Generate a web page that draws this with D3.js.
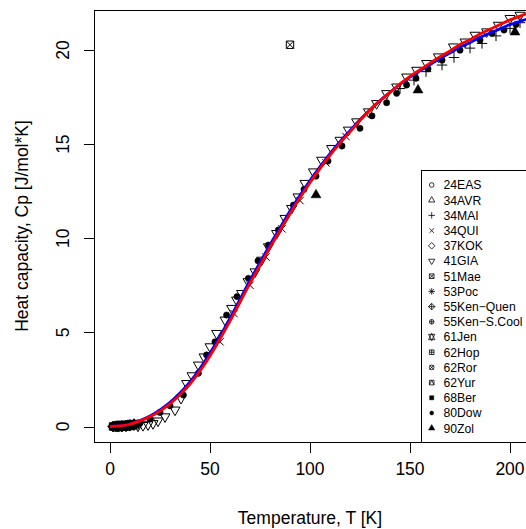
<!DOCTYPE html>
<html><head><meta charset="utf-8">
<script src="https://cdn.jsdelivr.net/npm/d3@7"></script>
<style>html,body{margin:0;padding:0;background:#fff;} svg{display:block;font-family:"Liberation Sans",Arial,Helvetica,sans-serif;}</style>
</head><body>
<script>
// ---- Data ----
const xTicks = [0, 50, 100, 150, 200];
const yTicks = [0, 5, 10, 15, 20];

const fitT = [0,5,10,15,20,25,30,35,40,45,50,55,60,65,70,75,80,85,90,95,100,105,110,115,120,125,130,135,140,145,150,155,160,165,170,175,180,185,190,195,200,205,210];
const fitRed = [0,0.03,0.12,0.3,0.52,0.82,1.2,1.68,2.25,2.95,3.75,4.65,5.6,6.6,7.6,8.55,9.5,10.4,11.3,12.15,12.95,13.7,14.4,15.05,15.65,16.25,16.8,17.3,17.75,18.2,18.6,18.95,19.3,19.65,19.95,20.3,20.55,20.85,21.1,21.35,21.6,21.8,22.0];
const fitBlue = [0,0.03,0.13,0.32,0.56,0.88,1.28,1.78,2.37,3.08,3.9,4.8,5.76,6.76,7.76,8.71,9.66,10.55,11.45,12.28,13.07,13.8,14.5,15.13,15.72,16.3,16.83,17.31,17.75,18.18,18.56,18.89,19.22,19.55,19.84,20.16,20.39,20.67,20.9,21.12,21.35,21.52,21.7];

const seriesNames = ["24EAS","34AVR","34MAI","34QUI","37KOK","41GIA","51Mae","53Poc","55Ken\u2212Quen","55Ken\u2212S.Cool","61Jen","62Hop","62Ror","62Yur","68Ber","80Dow","90Zol"];
const seriesPch = [1,2,3,4,5,6,7,8,9,10,11,12,13,14,15,16,17];

const t24EAS = [2.5,4,6,8,11,14];
const cp24EAS = [0.0,0.01,0.02,0.04,0.08,0.15];
const t34AVR = [3,5,7,9,12];
const cp34AVR = [0.0,0.01,0.02,0.05,0.1];
const t34MAI = [145,152,158,166,172,180,186,193,200,205];
const cp34MAI = [17.95,18.4,18.85,19.2,19.6,20.1,20.35,20.75,21.15,21.45];
const t34QUI = [55,62,70,78,86,95,108,118];
const cp34QUI = [4.5,6.0,7.5,9.0,10.5,12.0,14.0,15.4];
const t37KOK = [2,4,6,8,10];
const cp37KOK = [0.0,0.01,0.02,0.03,0.06];
const t41GIA = [14,16.5,19,21.5,24,27.5,32.5,35.5,38.3,41,44.2,47,50,53.3,57.5,60.8,63.3,65.8,69,72.5,75.8,79.2,83.3,87.5,90.8,94,97.5,101.7,105.8,110.8,115,119.2,123.3,129.2,133.3,138.3,143.3,148.3,153.3,158.3,164.2,171.7,177.5,182.5,188.3,194.2,200,205];
const cp41GIA = [0.03,0.06,0.1,0.16,0.3,0.52,0.88,1.5,2.29,2.7,3.27,3.7,4.24,4.95,5.66,6.28,6.72,7.07,7.7,8.22,8.84,9.55,10.26,11.06,11.59,12.2,12.92,13.53,14.15,14.77,15.21,15.75,16.19,16.72,17.16,17.69,18.04,18.57,18.93,19.29,19.64,20.17,20.43,20.79,20.97,21.32,21.68,21.85];
const t51Mae = [90];
const cp51Mae = [20.28];
const t53Poc = [3.5,5.5,7.5,9.5];
const cp53Poc = [0.0,0.01,0.03,0.05];
const t55KenQ = [1.5,3,4.5,6];
const cp55KenQ = [0.0,0.0,0.01,0.02];
const t55KenS = [2,3.5,5,6.5,8];
const cp55KenS = [0.0,0.0,0.01,0.02,0.03];
const t61Jen = [4,6,8,10,12];
const cp61Jen = [0.01,0.02,0.03,0.06,0.1];
const t62Hop = [1.5,2.5,3.5,4.5,5.5];
const cp62Hop = [0.0,0.0,0.0,0.01,0.01];
const t62Ror = [2,4,6,8];
const cp62Ror = [0.0,0.01,0.02,0.03];
const t62Yur = [3,5,7,9,11];
const cp62Yur = [0.0,0.01,0.02,0.04,0.07];
const t68Ber = [1.5,2,2.5,3,3.5,4,4.5,5,5.5,6,6.5,7,7.5,8,9,10,11,12,13];
const cp68Ber = [0.0,0.0,0.0,0.0,0.0,0.01,0.01,0.01,0.01,0.02,0.02,0.02,0.03,0.03,0.04,0.06,0.08,0.1,0.13];
const t80Dow = [2,3,4,5,6,7,8,9,10,12,15,20,25,30,36.7,44.2,48.3,52.5,58.3,63.5,69.2,74,79.2,84.2,91.7,97,103,109,116,125,131,138.3,143.3,148.3,153,159,166,175,185,191,197,203];
const cp80Dow = [0.0,0.0,0.0,0.01,0.01,0.02,0.02,0.03,0.05,0.08,0.18,0.4,0.75,1.1,1.67,2.83,3.8,4.5,5.92,6.9,7.87,8.8,9.64,10.44,11.76,12.6,13.3,14.1,14.9,15.84,16.5,17.2,17.7,18.14,18.5,19.0,19.46,19.99,20.53,20.88,21.06,21.35];
const t90Zol = [103,154,202.5];
const cp90Zol = [12.3,17.87,20.95];

const seriesT = [t24EAS,t34AVR,t34MAI,t34QUI,t37KOK,t41GIA,t51Mae,t53Poc,t55KenQ,t55KenS,t61Jen,t62Hop,t62Ror,t62Yur,t68Ber,t80Dow,t90Zol];
const seriesCp = [cp24EAS,cp34AVR,cp34MAI,cp34QUI,cp37KOK,cp41GIA,cp51Mae,cp53Poc,cp55KenQ,cp55KenS,cp61Jen,cp62Hop,cp62Ror,cp62Yur,cp68Ber,cp80Dow,cp90Zol];

// ---- Layout ----
const W = 526, H = 529;
const svg = d3.select("body").append("svg").attr("width", W).attr("height", H);
const pl = 94.5, pr = 526.5, pt = 10.5, pb = 442.5;
const x = d3.scaleLinear().domain([-7.85, 208.15]).range([94.3, 526.3]);
const y = d3.scaleLinear().domain([0, 20]).range([426.5, 50]);

// symbol drawing (R pch)
function sym(g, pch, cx, cy, r0, sw) {
  const TRC0 = Math.sqrt(4*Math.PI/(3*Math.sqrt(3))), TRC1 = TRC0*Math.sqrt(3)/2, TRC2 = TRC0/2;
  const S2 = Math.SQRT2;
  const p = d3.path();
  let fill = "none";
  const tri = (up) => {
    const r = TRC0*r0, yc = TRC2*r0, xc = TRC1*r0;
    const s = up ? 1 : -1;
    p.moveTo(cx, cy - s*r); p.lineTo(cx + xc, cy + s*yc); p.lineTo(cx - xc, cy + s*yc); p.closePath();
  };
  const sq = (h) => { p.rect(cx-h, cy-h, 2*h, 2*h); };
  const plus = (h) => { p.moveTo(cx-h, cy); p.lineTo(cx+h, cy); p.moveTo(cx, cy-h); p.lineTo(cx, cy+h); };
  const cross = (h) => { p.moveTo(cx-h, cy-h); p.lineTo(cx+h, cy+h); p.moveTo(cx-h, cy+h); p.lineTo(cx+h, cy-h); };
  const circ = (r) => { p.moveTo(cx + r, cy); p.arc(cx, cy, r, 0, 2*Math.PI); };
  const diam = (h) => { p.moveTo(cx-h, cy); p.lineTo(cx, cy-h); p.lineTo(cx+h, cy); p.lineTo(cx, cy+h); p.closePath(); };
  switch (pch) {
    case 1: circ(r0); break;
    case 2: tri(true); break;
    case 3: plus(S2*r0); break;
    case 4: cross(r0); break;
    case 5: diam(S2*r0); break;
    case 6: tri(false); break;
    case 7: sq(r0); cross(r0); break;
    case 8: cross(r0); plus(S2*r0); break;
    case 9: diam(S2*r0); plus(S2*r0); break;
    case 10: circ(r0); plus(r0); break;
    case 11: {
      const r = TRC0*r0; let yc = TRC2*r0; yc = 0.5*(yc + r); const xc = TRC1*r0;
      p.moveTo(cx, cy - r); p.lineTo(cx + xc, cy + yc); p.lineTo(cx - xc, cy + yc); p.closePath();
      p.moveTo(cx, cy + r); p.lineTo(cx + xc, cy - yc); p.lineTo(cx - xc, cy - yc); p.closePath();
      break; }
    case 12: sq(r0); plus(r0); break;
    case 13: circ(r0); cross(r0); break;
    case 14: sq(r0); p.moveTo(cx - r0, cy + r0); p.lineTo(cx, cy - r0); p.lineTo(cx + r0, cy + r0); break;
    case 15: sq(0.886*r0); fill = "#000"; break;
    case 16: circ(0.85*r0); fill = "#000"; break;
    case 17: tri(true); fill = "#000"; break;
  }
  g.append("path").attr("d", p.toString()).attr("fill", fill)
    .attr("stroke", "#000").attr("stroke-width", fill === "none" ? sw : 0.5);
}

// clip for plot region
svg.append("clipPath").attr("id", "clip").append("rect")
  .attr("x", 94.3).attr("y", 10).attr("width", 440).attr("height", 432.5);

const gPts = svg.append("g").attr("clip-path", "url(#clip)");
seriesPch.forEach((pch, i) => {
  seriesT[i].forEach((t, j) => {
    sym(gPts, pch, x(t), y(seriesCp[i][j]), 3.7, 1);
  });
});

// fitted lines
const fitData = fitT.map((t, i) => ({t, r: fitRed[i], b: fitBlue[i]}));
const lineB = d3.line().x(d => x(d.t)).y(d => y(d.b)).curve(d3.curveMonotoneX);
const lineR = d3.line().x(d => x(d.t)).y(d => y(d.r)).curve(d3.curveMonotoneX);
const gL = svg.append("g").attr("clip-path", "url(#clip)");
gL.append("path").datum(fitData).attr("d", lineB).attr("fill", "none").attr("stroke", "#0000FF").attr("stroke-width", 2.8);
gL.append("path").datum(fitData).attr("d", lineR).attr("fill", "none").attr("stroke", "#FF0000").attr("stroke-width", 2.8);

// legend
const lg = svg.append("g");
lg.append("rect").attr("x", 421.5).attr("y", 170.5).attr("width", 120).attr("height", 272)
  .attr("fill", "#fff").attr("stroke", "#000").attr("stroke-width", 1);
seriesNames.forEach((nm, i) => {
  const yy = 185 + i * 15.2;
  sym(lg, seriesPch[i], 431.7, yy, 2.3, 0.8);
  lg.append("text").attr("x", 443.5).attr("y", yy + 4.3).attr("font-size", 12.2).attr("fill", "#000").text(nm);
});

// frame
svg.append("rect").attr("x", pl).attr("y", pt).attr("width", pr - pl).attr("height", pb - pt)
  .attr("fill", "none").attr("stroke", "#000").attr("stroke-width", 1);

// x axis
const gx = svg.append("g");
xTicks.forEach(v => {
  const xx = Math.round(x(v)) + 0.5;
  gx.append("line").attr("x1", xx).attr("x2", xx).attr("y1", 442.5).attr("y2", 453).attr("stroke", "#000");
  gx.append("text").attr("x", x(v)).attr("y", 474.5).attr("text-anchor", "middle").attr("font-size", 17.5).text(v);
});
// y axis
const gy = svg.append("g");
yTicks.forEach(v => {
  const yy = Math.round(y(v)) + 0.5;
  gy.append("line").attr("x1", 84).attr("x2", 94.5).attr("y1", yy).attr("y2", yy).attr("stroke", "#000");
  gy.append("text").attr("transform", `translate(69,${y(v)}) rotate(-90)`).attr("text-anchor", "middle").attr("font-size", 17.5).text(v);
});

svg.append("text").attr("x", 310).attr("y", 524).attr("text-anchor", "middle").attr("font-size", 17.5).text("Temperature, T [K]");
svg.append("text").attr("transform", "translate(27.5,226) rotate(-90)").attr("text-anchor", "middle").attr("font-size", 17.5).text("Heat capacity, Cp [J/mol*K]");
</script>
</body></html>
